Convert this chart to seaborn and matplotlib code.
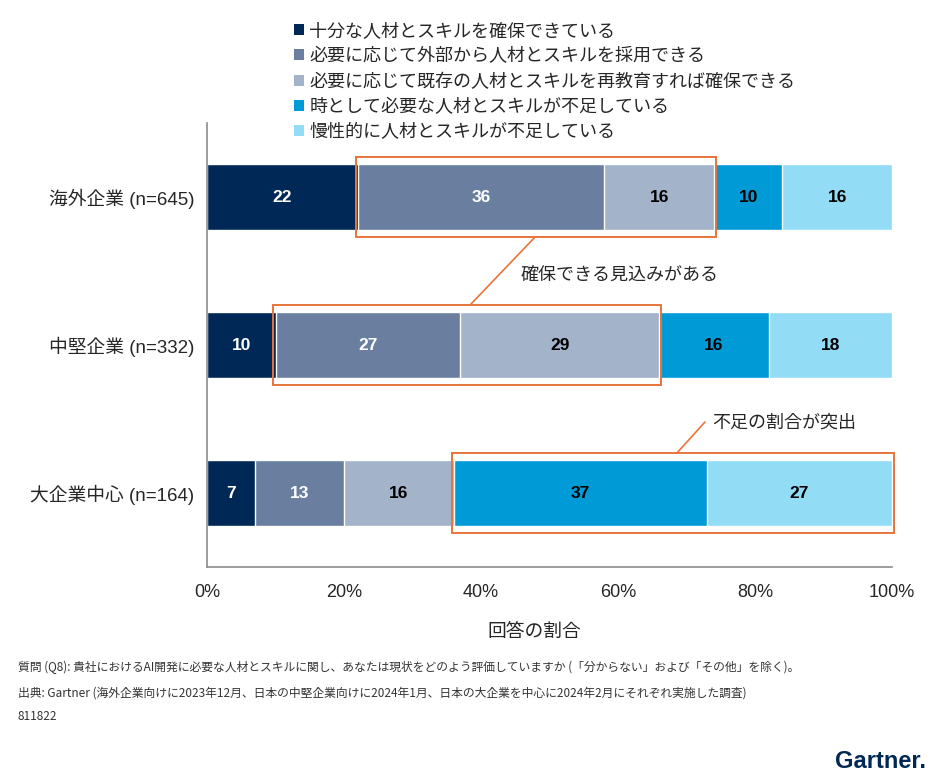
import matplotlib
matplotlib.use("Agg")
import matplotlib.pyplot as plt
import seaborn as sns
import numpy as np
import pandas as pd
from matplotlib.patches import Patch, Rectangle

# Data
categories = ["海外企業 (n=645)", "中堅企業 (n=332)", "大企業中心 (n=164)"]
series_names = [
    "十分な人材とスキルを確保できている",
    "必要に応じて外部から人材とスキルを採用できる",
    "必要に応じて既存の人材とスキルを再教育すれば確保できる",
    "時として必要な人材とスキルが不足している",
    "慢性的に人材とスキルが不足している",
]
enough = [22, 10, 7]
hire = [36, 27, 13]
retrain = [16, 29, 16]
sometimes_short = [10, 16, 37]
chronic_short = [16, 18, 27]
x_ticks = [0, 20, 40, 60, 80, 100]

colors = ["#002856", "#6A7FA0", "#A2B3CA", "#009AD6", "#93DCF6"]
label_colors = ["white", "white", "black", "black", "black"]
accent = "#E8743B"

sns.set_theme(style="white")
plt.rcParams["font.family"] = ["Liberation Sans", "Noto Sans CJK JP"]

values = np.array([enough, hire, retrain, sometimes_short, chronic_short])
cum = values.cumsum(axis=0)

fig = plt.figure(figsize=(9.43, 7.77), dpi=100)
ax = fig.add_axes([207 / 943, 1 - 567 / 777, 685 / 943, 444 / 777])

# stacked bars: draw cumulative totals from the widest down
for i in reversed(range(len(series_names))):
    df = pd.DataFrame({"cat": categories, "val": cum[i]})
    sns.barplot(data=df, x="val", y="cat", color=colors[i], width=0.44,
                edgecolor="white", linewidth=1, saturation=1, ax=ax)

# segment labels
for i in range(len(series_names)):
    for j in range(len(categories)):
        start = cum[i][j] - values[i][j]
        ax.text(start + values[i][j] / 2, j, str(values[i][j]), ha="center", va="center",
                fontsize=12.5, fontweight="bold", color=label_colors[i])

ax.set_xlim(0, 100)
ax.set_ylim(2.5, -0.5)
ax.set_xticks(x_ticks)
ax.set_xticklabels([f"{t}%" for t in x_ticks], fontsize=13)
ax.tick_params(axis="x", length=0, pad=12)
ax.tick_params(axis="y", length=0, pad=9, labelsize=13.5)
ax.set_ylabel("")
ax.set_xlabel("回答の割合", fontsize=13.5)
ax.xaxis.set_label_coords((534 - 207) / 685, -0.128)
for s in ["top", "right"]:
    ax.spines[s].set_visible(False)
for s in ["left", "bottom"]:
    ax.spines[s].set_color("#8C8C8C")
    ax.spines[s].set_linewidth(1.2)

# annotation boxes
hh = 0.27
def box(row, i0, i1, pad=0.3):
    x0 = cum[i0][row] - values[i0][row] - pad
    x1 = cum[i1][row] + pad
    ax.add_patch(Rectangle((x0, row - hh), x1 - x0, 2 * hh, fill=False,
                           edgecolor=accent, linewidth=1.4, clip_on=False, zorder=5))

box(0, 1, 2)
box(1, 1, 2)
box(2, 3, 4)

ax.plot([47.9, 38.4], [hh, 1 - hh], color=accent, linewidth=1.2, clip_on=False, zorder=5)
ax.text(45.7, 0.53, "確保できる見込みがある", fontsize=13, va="center", ha="left")
ax.plot([68.6, 72.7], [2 - hh, 1.52], color=accent, linewidth=1.2, clip_on=False, zorder=5)
ax.text(73.7, 1.53, "不足の割合が突出", fontsize=13, va="center", ha="left")

# legend
handles = [Patch(facecolor=c, edgecolor="none") for c in colors]
fig.legend(handles, series_names, loc="upper left", bbox_to_anchor=(294 / 943, 1 - 23 / 777),
           frameon=False, fontsize=13, handlelength=0.55, handleheight=0.55,
           handletextpad=0.3, labelspacing=0.45, borderpad=0, borderaxespad=0)

# footnotes
fn = dict(fontsize=8.5, color="#333333", ha="left", va="center",
          family=["Noto Sans CJK JP", "DejaVu Sans"])
fig.text(18 / 943, 1 - 667 / 777,
         "質問 (Q8): 貴社におけるAI開発に必要な人材とスキルに関し、あなたは現状をどのよう評価していますか (「分からない」および「その他」を除く)。", **fn)
fig.text(18 / 943, 1 - 693 / 777,
         "出典: Gartner (海外企業向けに2023年12月、日本の中堅企業向けに2024年1月、日本の大企業を中心に2024年2月にそれぞれ実施した調査)", **fn)
fig.text(18 / 943, 1 - 717 / 777, "811822", **fn)
fig.text(926 / 943, 1 - 761 / 777, "Gartner.", fontsize=17, fontweight="bold",
         color="#002856", ha="right", va="center")

fig.savefig("out.png", dpi=100)
